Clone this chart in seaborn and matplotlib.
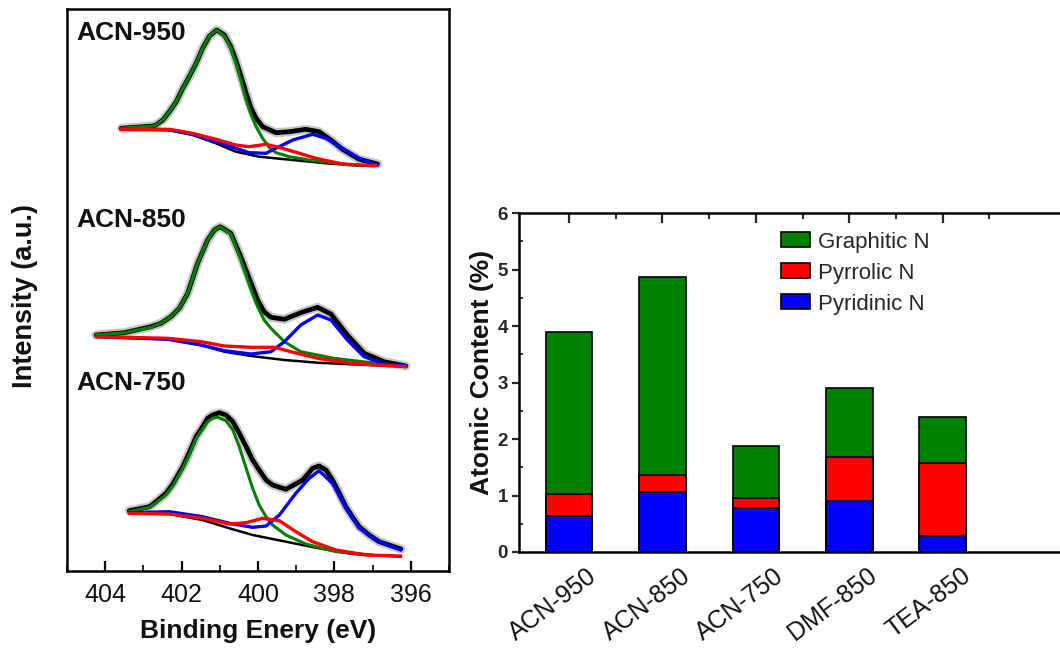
import numpy as np
import pandas as pd
import matplotlib
matplotlib.use('Agg')
import matplotlib.pyplot as plt
import matplotlib.transforms as mtransforms
from matplotlib.ticker import MultipleLocator, FixedLocator
import seaborn as sns

# ---------------- XPS N1s spectra (binding energy eV, intensity a.u., offset stacked) -------------
# ACN-950
e950_raw = [403.58, 402.75, 402.67, 402.49, 402.32, 402.14, 401.97, 401.80, 401.62, 401.45, 401.27, 401.08,
            400.88, 400.71, 400.58, 400.44, 400.31, 400.18, 400.05, 399.88, 399.53, 399.18, 398.75, 398.40,
            398.09, 397.79, 397.35, 396.87]
i950_raw = [442.7, 445.0, 446.0, 451.0, 459.3, 469.3, 482.7, 494.3, 507.7, 522.7, 535.0, 541.0,
            536.0, 524.3, 511.0, 494.3, 477.7, 462.7, 452.7, 444.3, 438.3, 439.3, 441.7, 439.3,
            431.0, 421.7, 411.7, 407.0]
e950_gra = [403.58, 402.75, 402.67, 402.49, 402.32, 402.14, 401.97, 401.80, 401.62, 401.45, 401.27, 401.08,
            400.88, 400.71, 400.58, 400.44, 400.31, 400.18, 400.05, 399.88, 399.70, 399.53, 399.18, 398.66,
            397.79, 397.26]
i950_gra = [442.7, 445.0, 446.0, 451.0, 459.3, 469.3, 482.7, 494.3, 507.7, 522.7, 535.0, 541.0,
            535.0, 522.7, 507.7, 489.3, 471.0, 456.0, 444.3, 432.7, 423.3, 418.3, 414.3, 411.0,
            407.0, 405.3]
e950_pyrr = [403.58, 402.32, 401.71, 401.10, 400.58, 400.23, 399.79, 399.36, 398.92, 398.48, 397.79, 396.92]
i950_pyrr = [441.7, 441.7, 437.7, 431.7, 426.0, 424.3, 426.7, 422.7, 417.7, 412.7, 407.0, 405.3]
e950_pyri = [403.58, 402.32, 401.71, 401.10, 400.58, 400.23, 399.79, 399.53, 399.09, 398.57, 398.22, 397.79,
             397.35, 396.87]
i950_pyri = [441.7, 441.0, 436.7, 429.3, 422.7, 418.3, 417.7, 422.7, 431.0, 436.7, 432.7, 422.7,
             412.7, 406.0]
e950_bg = [403.58, 402.32, 401.71, 401.10, 400.58, 399.97, 399.09, 398.22, 397.35, 396.87]
i950_bg = [441.7, 441.0, 436.0, 427.7, 419.3, 414.3, 411.0, 407.7, 405.3, 405.0]

# ACN-850
e850_raw = [404.24, 403.50, 402.80, 402.54, 402.28, 402.06, 401.84, 401.58, 401.32, 401.14, 400.99, 400.71,
            400.45, 400.18, 400.01, 399.84, 399.66, 399.31, 398.88, 398.44, 398.09, 397.66, 397.22, 396.70,
            396.13]
i850_raw = [236.0, 238.3, 244.3, 247.7, 254.3, 262.7, 277.7, 307.7, 331.0, 341.0, 344.3, 337.7,
            314.3, 287.7, 271.0, 259.3, 253.7, 251.7, 258.3, 263.7, 257.0, 236.0, 217.7, 209.3,
            205.0]
e850_gra = [404.24, 403.50, 402.80, 402.54, 402.28, 402.06, 401.84, 401.58, 401.32, 401.14, 400.99, 400.71,
            400.45, 400.18, 400.01, 399.84, 399.66, 399.31, 398.88, 398.01, 397.13, 396.13]
i850_gra = [236.0, 238.3, 243.7, 247.7, 254.3, 262.7, 277.7, 307.7, 331.0, 341.0, 344.3, 337.0,
            311.0, 281.0, 264.3, 251.0, 242.7, 229.3, 219.3, 212.7, 208.7, 205.0]
e850_pyrr = [404.24, 402.36, 401.49, 400.88, 400.18, 399.57, 399.14, 398.44, 397.57, 396.13]
i850_pyrr = [234.3, 232.7, 229.3, 225.0, 223.7, 223.7, 219.3, 212.7, 207.7, 204.3]
e850_pyri = [404.24, 402.36, 401.49, 400.88, 400.18, 399.66, 399.31, 398.88, 398.44, 398.09, 397.66, 397.22,
             396.70, 396.13]
i850_pyri = [234.3, 231.7, 226.0, 220.3, 217.0, 219.3, 229.3, 246.0, 256.0, 251.0, 231.0, 214.3,
             207.0, 205.0]
e850_bg = [404.24, 402.36, 401.49, 400.88, 400.18, 399.31, 398.44, 397.57, 396.13]
i850_bg = [234.3, 231.7, 226.0, 219.3, 215.0, 211.0, 208.3, 206.7, 204.3]

# ACN-750
e750_raw = [403.37, 402.84, 402.67, 402.41, 402.23, 401.97, 401.80, 401.62, 401.45, 401.32, 401.19, 401.01,
            400.84, 400.66, 400.49, 400.31, 400.14, 399.97, 399.79, 399.62, 399.27, 398.83, 398.57, 398.40,
            398.22, 398.05, 397.87, 397.70, 397.53, 397.35, 397.09, 396.83, 396.26]
i750_raw = [60.3, 64.3, 69.3, 77.7, 87.0, 104.3, 118.3, 134.3, 144.3, 152.7, 156.0, 158.3,
            156.0, 149.3, 137.7, 124.3, 111.0, 101.0, 91.0, 86.0, 81.7, 91.0, 102.7, 105.0,
            101.0, 91.0, 77.7, 64.3, 54.3, 44.3, 36.0, 29.3, 22.0]
e750_gra = [403.37, 402.84, 402.67, 402.41, 402.23, 401.97, 401.80, 401.62, 401.45, 401.32, 401.19, 401.06,
            400.84, 400.66, 400.49, 400.31, 400.14, 399.97, 399.79, 399.62, 399.27, 398.75, 397.96, 397.00]
i750_gra = [59.3, 63.7, 68.3, 76.0, 85.0, 102.7, 116.0, 132.7, 141.7, 149.3, 152.7, 153.7,
            150.3, 141.0, 124.3, 102.7, 82.7, 66.0, 54.3, 46.0, 36.0, 27.0, 19.3, 16.0]
e750_pyrr = [403.37, 402.32, 401.45, 400.75, 400.31, 399.88, 399.44, 399.01, 398.57, 397.96, 397.18, 396.26]
i750_pyrr = [57.7, 57.0, 52.7, 47.0, 48.3, 52.7, 50.3, 39.3, 29.3, 21.0, 16.0, 15.0]
e750_pyri = [403.37, 402.32, 401.45, 400.75, 400.14, 399.79, 399.44, 399.01, 398.66, 398.40, 398.05, 397.70,
             397.35, 396.83, 396.26]
i750_pyri = [58.3, 59.3, 54.3, 47.7, 43.7, 45.0, 56.0, 77.7, 92.7, 100.3, 87.7, 62.7,
             42.7, 29.3, 21.0]
e750_bg = [403.37, 402.32, 401.45, 400.75, 400.14, 399.27, 398.40, 397.53, 396.26]
i750_bg = [57.7, 57.0, 51.0, 42.7, 36.0, 29.3, 22.7, 17.0, 14.3]

spectrum_names = ['ACN-950', 'ACN-850', 'ACN-750']

# ---------------- Atomic content (%) ----------------
samples = ['ACN-950', 'ACN-850', 'ACN-750', 'DMF-850', 'TEA-850']
pyridinic = [0.64, 1.06, 0.78, 0.90, 0.28]
pyrrolic = [0.39, 0.31, 0.18, 0.79, 1.29]
graphitic = [2.87, 3.50, 0.92, 1.21, 0.82]

# ---------------- style ----------------
sns.set_theme(style='white')
plt.rcParams['font.family'] = ['Liberation Sans', 'DejaVu Sans']
plt.rcParams['axes.edgecolor'] = 'black'
plt.rcParams['axes.linewidth'] = 1.8
plt.rcParams['lines.solid_joinstyle'] = 'round'
plt.rcParams['lines.solid_capstyle'] = 'round'

GREEN = '#008000'
RED = '#FF0000'
BLUE = '#0000FF'

W, H = 1060, 649
fig = plt.figure(figsize=(W / 100, H / 100), dpi=100)
ax1 = fig.add_axes([67 / W, 78 / H, 382 / W, 562 / H])
ax2 = fig.add_axes([519 / W, 97 / H, 548 / W, 339 / H])


def line(ax, x, y, color, lw, alpha=1.0, z=2):
    sns.lineplot(x=x, y=y, ax=ax, color=color, lw=lw, alpha=alpha, sort=False,
                 estimator=None, zorder=z)


def spectrum(ax, er, ir, eg, ig, err, irr, epy, ipy, ebg, ibg):
    line(ax, ebg, ibg, 'black', 1.8, z=2)
    line(ax, er, ir, '#b8b8b8', 6.5, alpha=0.8, z=3)
    line(ax, er, ir, 'black', 3.4, z=4)
    line(ax, eg, ig, GREEN, 2.2, z=5)
    line(ax, epy, ipy, BLUE, 2.4, z=6)
    line(ax, err, irr, RED, 2.4, z=7)


spectrum(ax1, e950_raw, i950_raw, e950_gra, i950_gra, e950_pyrr, i950_pyrr, e950_pyri, i950_pyri, e950_bg, i950_bg)
spectrum(ax1, e850_raw, i850_raw, e850_gra, i850_gra, e850_pyrr, i850_pyrr, e850_pyri, i850_pyri, e850_bg, i850_bg)
spectrum(ax1, e750_raw, i750_raw, e750_gra, i750_gra, e750_pyrr, i750_pyrr, e750_pyri, i750_pyri, e750_bg, i750_bg)

ax1.set_xlim(405, 395)
ax1.set_ylim(0, 562)
ax1.xaxis.set_major_locator(MultipleLocator(2))
ax1.xaxis.set_minor_locator(MultipleLocator(1))
ax1.tick_params(axis='x', which='major', direction='in', length=7, width=1.6, bottom=True,
                labelsize=18, pad=9, colors='black')
ax1.tick_params(axis='x', which='minor', direction='in', length=4, width=1.4, bottom=True)
ax1.set_yticks([])
for lbl in ax1.get_xticklabels():
    lbl.set_color('#111111')
for sp in ax1.spines.values():
    sp.set_linewidth(1.8)
    sp.set_color('black')

for name, yf in zip(spectrum_names, [0.957, 0.625, 0.334]):
    ax1.text(0.025, yf, name, transform=ax1.transAxes, fontsize=19, fontweight='bold',
             ha='left', va='center', color='#111111')

ax1.set_xlabel('Binding Enery (eV)', fontsize=19, fontweight='bold', color='#111111')
ax1.xaxis.set_label_coords(0.5, -0.085)
ax1.set_ylabel('Intensity (a.u.)', fontsize=19.5, fontweight='bold', color='#111111')
ax1.yaxis.set_label_coords(-0.075, 0.49)

# ---------------- stacked bars ----------------
tot_red = [a + b for a, b in zip(pyridinic, pyrrolic)]
tot_all = [a + b for a, b in zip(tot_red, graphitic)]
df = pd.DataFrame({'sample': samples, 'pyridinic': pyridinic, 'red': tot_red, 'all': tot_all})

for col, colr, lab in [('all', GREEN, 'Graphitic N'), ('red', RED, 'Pyrrolic N'), ('pyridinic', BLUE, 'Pyridinic N')]:
    sns.barplot(data=df, x='sample', y=col, color=colr, saturation=1, width=0.5,
                edgecolor='black', linewidth=1.2, ax=ax2, label=lab)

ax2.set_xlim(-0.535, 5.33)
ax2.set_ylim(0, 6)
ax2.yaxis.set_major_locator(MultipleLocator(1))
ax2.yaxis.set_minor_locator(MultipleLocator(0.5))
ax2.xaxis.set_minor_locator(FixedLocator([0.5, 1.5, 2.5, 3.5, 4.5]))
ax2.tick_params(axis='x', which='major', top=True, bottom=False, direction='in', length=7, width=1.6,
                labelsize=18, pad=4)
ax2.tick_params(axis='x', which='minor', top=True, bottom=False, direction='in', length=4, width=1.4)
ax2.tick_params(axis='y', which='major', left=True, direction='out', length=5, width=1.6, labelsize=13.5, pad=3)
ax2.tick_params(axis='y', which='minor', left=True, direction='in', length=3, width=1.3)
for lbl in ax2.get_yticklabels():
    lbl.set_fontweight('bold')
offset = mtransforms.ScaledTranslation(18 / 100, -6 / 100, fig.dpi_scale_trans)
for lbl in ax2.get_xticklabels():
    lbl.set_rotation(37)
    lbl.set_ha('right')
    lbl.set_va('top')
    lbl.set_rotation_mode('anchor')
    lbl.set_transform(lbl.get_transform() + offset)
    lbl.set_color('#111111')
for sp in ax2.spines.values():
    sp.set_linewidth(1.8)
    sp.set_color('black')

ax2.set_xlabel('')
ax2.set_ylabel('Atomic Content (%)', fontsize=19, fontweight='bold', color='#111111')
ax2.yaxis.set_label_coords(-0.045, 0.53)

leg = ax2.legend(loc='upper left', bbox_to_anchor=(0.479, 0.945), frameon=False, fontsize=16,
                 handlelength=1.3, handleheight=0.68, handletextpad=0.35, labelspacing=0.45,
                 borderpad=0, borderaxespad=0)

fig.savefig('out.png', dpi=100)
